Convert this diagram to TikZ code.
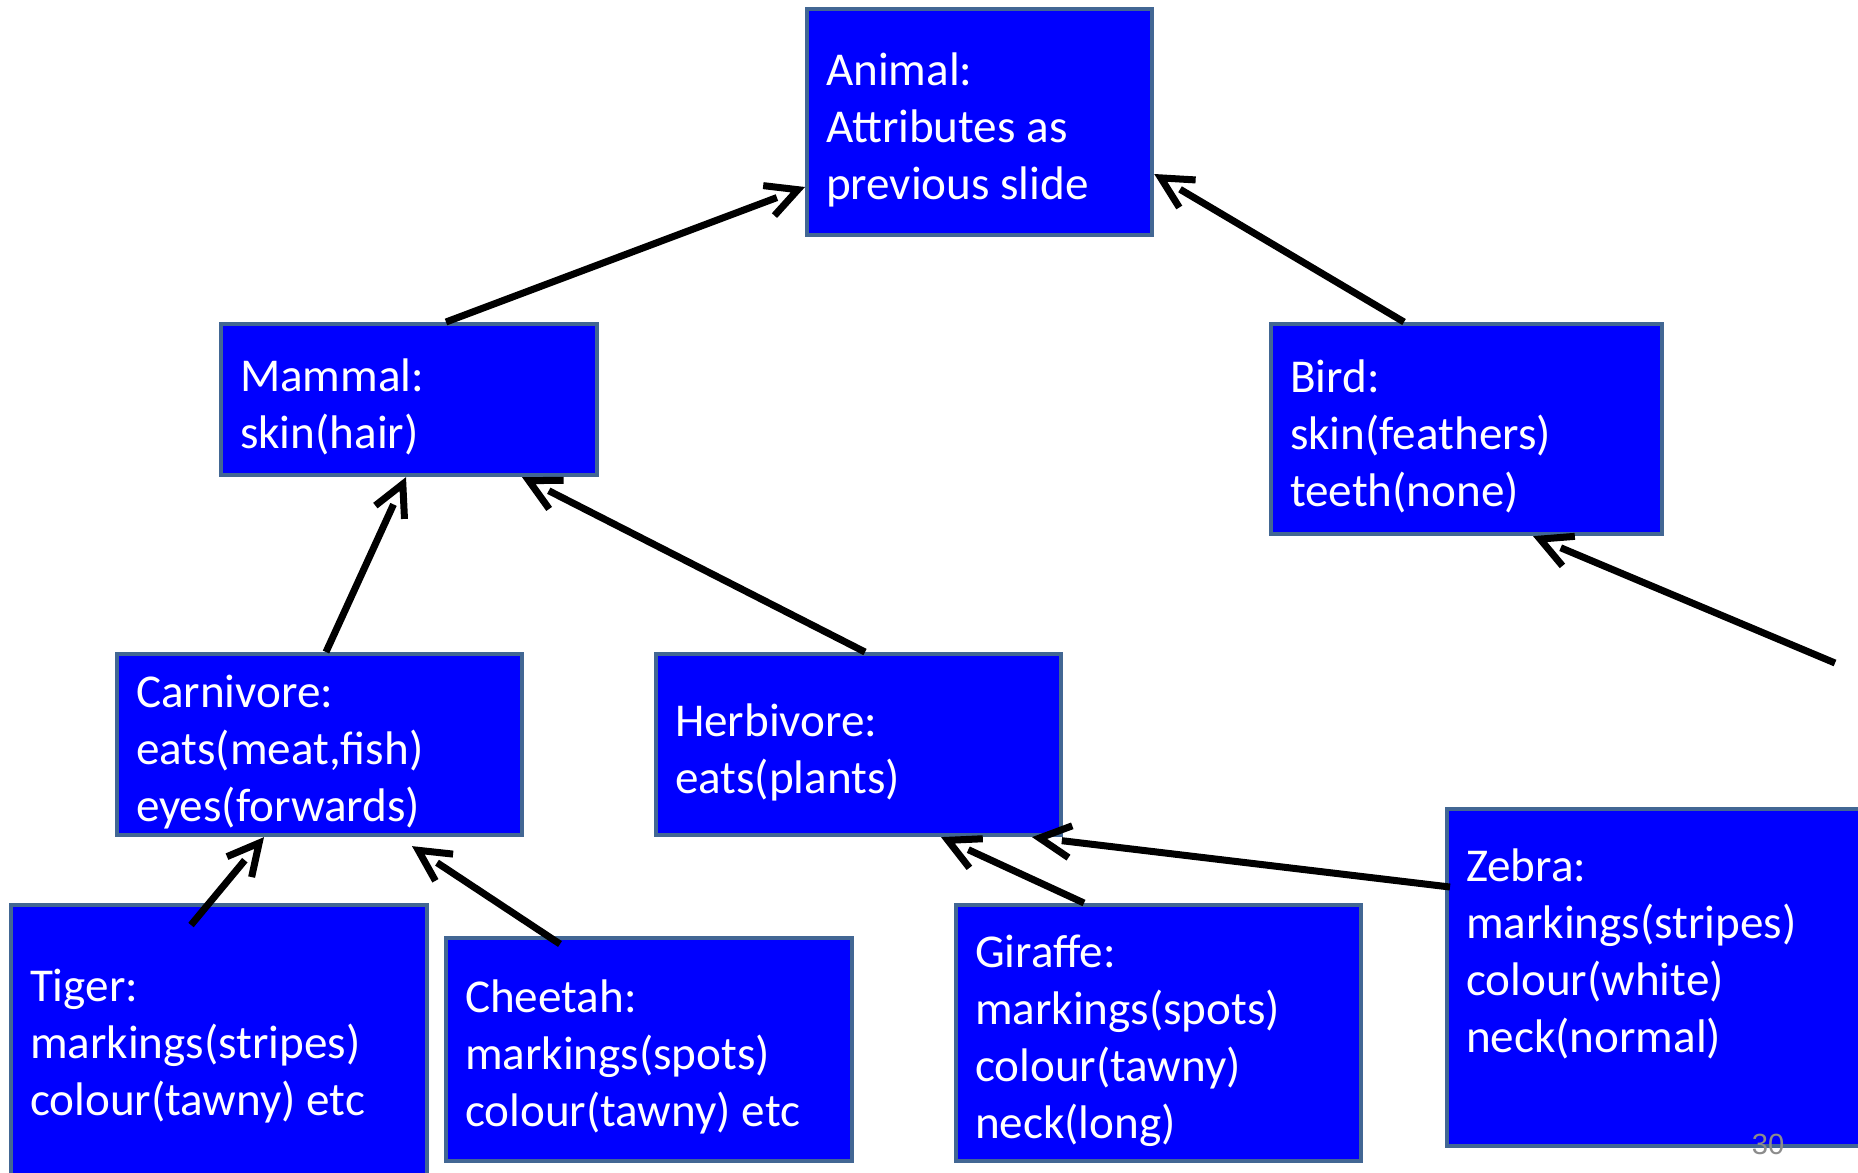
\documentclass[tikz,border=0pt]{standalone}
\usepackage{fontspec}
\setmainfont{Carlito}
\newfontfamily\slidenumfont{Liberation Sans}
\usepackage{tikz}
\usetikzlibrary{calc, arrows.meta}
\definecolor{classfill}{RGB}{0,0,255}
\definecolor{classline}{RGB}{66,103,148}
\definecolor{numgray}{RGB}{140,140,140}
\tikzset{
  class/.style={draw=classline, fill=classfill, line width=0.04cm, text=white, align=flush left,
    anchor=north west, inner xsep=0.19cm, inner ysep=0pt, text height=13.6pt,
    font=\fontsize{13.4}{16.2}\selectfont},
  isa/.style={line width=0.07cm, shorten >=0.3cm,
    postaction={draw, shorten >=0pt, dash pattern=on 0pt off 100cm, -{Straight Barb[length=0.31cm, width=0.32cm]}}},
}
\begin{document}
\begin{tikzpicture}[x=0.01cm, y=-0.01cm]
  \useasboundingbox (0,0) rectangle (1858,1172);
  \clip (0,0) rectangle (1858,1172);

  \node[class, text width=3.07cm, minimum height=2.26cm] (animal) at (805,7) {Animal:\\Attributes as\\previous slide};
  \node[class, text width=3.38cm, minimum height=1.51cm] (mammal) at (219,322) {Mammal:\\skin(hair)};
  \node[class, text width=3.53cm, minimum height=2.10cm] (bird) at (1269,322) {Bird:\\skin(feathers)\\teeth(none)};
  \node[class, text width=3.67cm, minimum height=1.81cm] (carnivore) at (115,652) {Carnivore:\\eats(meat,fish)\\eyes(forwards)};
  \node[class, text width=3.67cm, minimum height=1.81cm] (herbivore) at (654,652) {Herbivore:\\eats(plants)};
  \node[class, text width=3.78cm, minimum height=2.82cm, text depth=39.2pt] (tiger) at (9,903) {Tiger:\\markings(stripes)\\colour(tawny) etc};
  \node[class, text width=3.68cm, minimum height=2.23cm] (cheetah) at (444,936) {Cheetah:\\markings(spots)\\colour(tawny) etc};
  \node[class, text width=3.67cm, minimum height=2.56cm] (giraffe) at (954,903) {Giraffe:\\markings(spots)\\colour(tawny)\\neck(long)};
  \node[class, text width=3.98cm, minimum height=3.37cm, text depth=68.3pt] (zebra) at (1445,807) {Zebra:\\markings(stripes)\\colour(white)\\neck(normal)};

  \draw[isa] ($(mammal.north west)+(227,0)$) -- ($(animal.north west)+(0,180)$);
  \draw[isa] ($(bird.north west)+(135,0)$) -- ($(animal.north east)+(0,167)$);
  \coordinate (offpage) at (1835,663);
  \draw[isa] (offpage) -- ($(bird.south west)+(264,0)$);
  \draw[isa] ($(carnivore.north west)+(211,0)$) -- ($(mammal.south west)+(187,0)$);
  \draw[isa] ($(herbivore.north west)+(211,0)$) -- ($(mammal.south west)+(303,0)$);
  \draw[isa] ($(tiger.north west)+(182,22)$) -- ($(carnivore.south west)+(149,0)$);
  \draw[isa] ($(cheetah.north west)+(116,8)$) -- ($(carnivore.south west)+(297,9)$);
  \draw[isa] ($(giraffe.north west)+(130,0)$) -- ($(herbivore.south west)+(287,0)$);
  \draw[isa] ($(zebra.north west)+(5,80)$) -- ($(herbivore.south west)+(378,0)$);

  \node[font=\slidenumfont\fontsize{8.3}{10}\selectfont, text=numgray] (slidenum) at (1768,1144) {30};
\end{tikzpicture}
\end{document}
